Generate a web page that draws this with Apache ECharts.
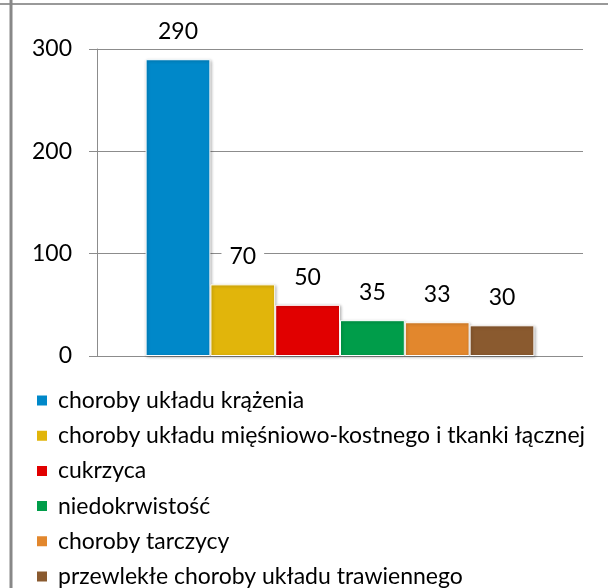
<!DOCTYPE html>
<html>
<head>
<meta charset="utf-8">
<script src="https://cdn.jsdelivr.net/npm/echarts@6/dist/echarts.min.js"></script>
<style>html,body{margin:0;padding:0;background:#fff;}#c{width:608px;height:588px;}</style>
</head>
<body>
<div id="c"></div>
<script>
const seriesNames = [
  'choroby układu krążenia',
  'choroby układu mięśniowo-kostnego i tkanki łącznej',
  'cukrzyca',
  'niedokrwistość',
  'choroby tarczycy',
  'przewlekłe choroby układu trawiennego'
];
const values = [290, 70, 50, 35, 33, 30];
const colors = ['#0088c9', '#e1b50b', '#e10000', '#009d4a', '#e2872d', '#8a5a2f'];
const categories = [''];

const FONT = 'Lato, "Liberation Sans", sans-serif';
const FS = 23;
const chart = echarts.init(document.getElementById('c'));
chart.setOption({
  animation: false,
  backgroundColor: '#fff',
  textStyle: { fontFamily: FONT },
  grid: { left: 97, right: 25, top: 49, bottom: 232, containLabel: false },
  graphic: [
    { type: 'line', shape: { x1: 0, y1: 4, x2: 608, y2: 4 }, style: { stroke: '#999', lineWidth: 2 }, silent: true },
    { type: 'line', shape: { x1: 11, y1: 0, x2: 11, y2: 588 }, style: { stroke: '#888', lineWidth: 3 }, silent: true }
  ],
  legend: {
    orient: 'vertical', left: 30, top: 384, height: 400,
    itemWidth: 12, itemHeight: 12, itemGap: 12.2,
    icon: 'rect',
    textStyle: { fontSize: FS, color: '#000', fontFamily: FONT, lineHeight: 23, padding: [0, 0, 0, 5] },
    data: seriesNames
  },
  xAxis: {
    type: 'category', data: categories,
    axisLine: { show: false }, axisTick: { show: false }, axisLabel: { show: false }
  },
  yAxis: {
    type: 'value', min: 0, max: 300, interval: 100,
    axisLine: { show: true, lineStyle: { color: '#8c8c8c', width: 1 } },
    axisTick: { show: true, length: 8, lineStyle: { color: '#8c8c8c' } },
    axisLabel: { fontSize: FS, color: '#000', margin: 25, fontFamily: FONT },
    splitLine: { show: true, lineStyle: { color: '#8c8c8c', width: 1 } }
  },
  series: seriesNames.map((n, i) => ({
    name: n, type: 'bar',
    data: [values[i]],
    barGap: '0%', barCategoryGap: '20%',
    itemStyle: {
      color: colors[i], borderColor: '#fff', borderWidth: 1,
      shadowColor: 'rgba(0,0,0,0.3)', shadowBlur: 3, shadowOffsetX: 1, shadowOffsetY: 1
    },
    label: {
      show: true, position: 'top', distance: 13,
      fontSize: FS, color: '#000', fontFamily: FONT,
      backgroundColor: '#fff', padding: [3, 8]
    }
  }))
});
</script>
</body>
</html>
